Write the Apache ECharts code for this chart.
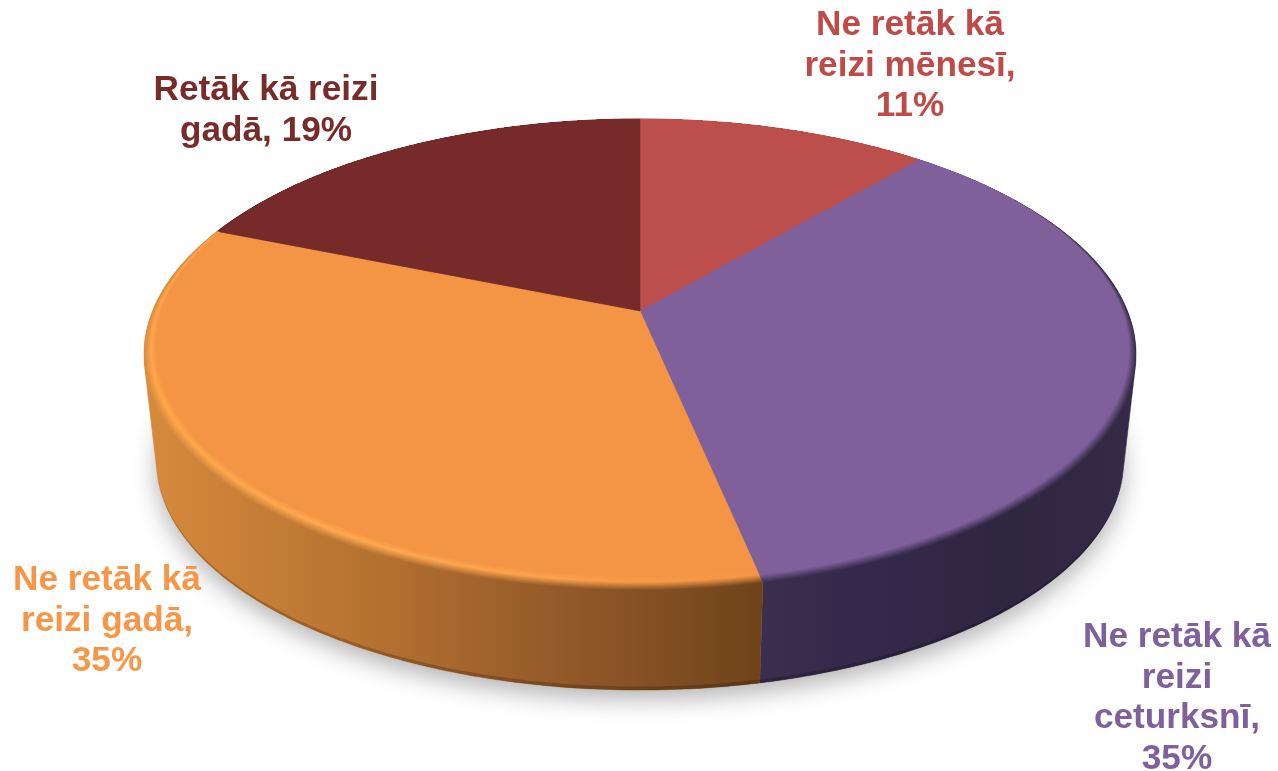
<!DOCTYPE html>
<html>
<head>
<meta charset="utf-8">
<title>Pie</title>
<script src="https://cdn.jsdelivr.net/npm/echarts@6/dist/echarts.min.js"></script>
<style>
  html, body { margin: 0; padding: 0; background: #fff; }
  #chart { width: 1278px; height: 771px; }
</style>
</head>
<body>
<div id="chart"></div>
<script>
// slice shares as measured on the picture, the printed labels are rounded
const categories = ["Ne retāk kā reizi mēnesī", "Ne retāk kā reizi ceturksnī", "Ne retāk kā reizi gadā", "Retāk kā reizi gadā"];
const shares = [11.32, 35.37, 34.41, 18.9];
const labelLines = [
  ["Ne retāk kā", "reizi mēnesī,", "11%"],
  ["Ne retāk kā", "reizi", "ceturksnī,", "35%"],
  ["Ne retāk kā", "reizi gadā,", "35%"],
  ["Retāk kā reizi", "gadā, 19%"]
];

const topColors = ["#bc4e4c", "#7f609b", "#f49545", "#762a29"];
const labelColors = ["#be4b48", "#7f609b", "#f79646", "#772c2a"];
const labelPos = [[910, 5], [1177, 617], [107, 560], [266, 70]];
const wallRange = [[640, 920], [760, 1137], [145, 763], [218, 640]];
const wallColors = [
  ["#7a3230", "#7a3230", "#7a3230", "#7a3230"],
  ["#3b2e4e", "#33284a", "#2f2640", "#352a47"],
  ["#d68a3c", "#b97431", "#945a29", "#6f431b"],
  ["#4e1c1b", "#4e1c1b", "#4e1c1b", "#4e1c1b"]
];
const rimHighlights = [
  ["#bc4e4c", "#bc4e4c", "#bc4e4c", "#bc4e4c"],
  ["#7f609b", "#7f609b", "#7f609b", "#7f609b"],
  ["#ffa64c", "#ffaa52", "#fba24c", "#f49545"],
  ["#762a29", "#762a29", "#762a29", "#762a29"]
];

const apex = [640, 311];
const tilt = -0.1847;
const radiusX = 487.5;
const radiusY = 227.5;
const bottomScale = 0.975;
const bottomCenterY = 418;

function hex2rgb(c) {
  return [1, 3, 5].map(i => parseInt(c.substr(i, 2), 16));
}
function mix(a, b, t) {
  const ca = hex2rgb(a), cb = hex2rgb(b);
  return "#" + ca.map((v, i) => Math.round(v + (cb[i] - v) * t).toString(16).padStart(2, "0")).join("");
}

// perspective circle
function rimPoint(a, scale, cy) {
  const x = Math.sin(a), y = -Math.cos(a), w = 1 + tilt * y;
  return [apex[0] + scale * radiusX * x / w, cy + scale * radiusY * y / w];
}
function topRim(a) { return rimPoint(a, 1, apex[1]); }
function bottomRim(a) { return rimPoint(a, bottomScale, bottomCenterY); }
function bevelFrac(a) {
  const t = Math.min(1, Math.max(0, (-Math.cos(a) + 0.6) / 1.6));
  return 0.05 * t;
}
// t=0 is the flat top edge, t=1 is the top of the wall
function bevelPoint(a, t) {
  const p = topRim(a), f = bevelFrac(a) * (1 - t);
  return [p[0] + (apex[0] - p[0]) * f, p[1] + (apex[1] - p[1]) * f];
}
function arc(a0, a1, fn) {
  const pts = [];
  const n = Math.max(2, Math.ceil((a1 - a0) / 0.012));
  for (let i = 0; i <= n; i++) pts.push(fn(a0 + (a1 - a0) * i / n));
  return pts;
}
function xGradient(range, colors) {
  return new echarts.graphic.LinearGradient(range[0], 0, range[1], 0,
    colors.map((c, i) => ({ offset: i / (colors.length - 1), color: c })), true);
}
// wall outline, straight bridge between the top and the bottom rim at the sides
function convexHull(points) {
  const pts = points.slice().sort((p, q) => p[0] - q[0] || p[1] - q[1]);
  const cross = (o, a, b) => (a[0] - o[0]) * (b[1] - o[1]) - (a[1] - o[1]) * (b[0] - o[0]);
  const half = list => {
    const out = [];
    list.forEach(p => {
      while (out.length > 1 && cross(out[out.length - 2], out[out.length - 1], p) <= 0) out.pop();
      out.push(p);
    });
    out.pop();
    return out;
  };
  return half(pts).concat(half(pts.slice().reverse()));
}

const total = shares.reduce((a, b) => a + b, 0);

function renderSlice(params, api) {
  const idx = params.dataIndex;
  let before = 0;
  for (let i = 0; i < idx; i++) before += shares[i];
  const a0 = before / total * Math.PI * 2;
  const a1 = (before + api.value(0)) / total * Math.PI * 2;
  const children = [];

  // ground shadow
  if (idx === 0) {
    children.push({
      type: "polygon", z2: 0, silent: true,
      shape: { points: arc(0, Math.PI * 2, bottomRim) },
      style: { fill: "#fff", shadowColor: "rgba(0,0,0,0.3)", shadowBlur: 24, shadowOffsetY: 9 }
    });
  }

  // wall
  const wallFill = xGradient(wallRange[idx], wallColors[idx]);
  children.push({
    type: "polygon", z2: 1, silent: true,
    shape: { points: convexHull(arc(a0, a1, topRim).concat(arc(a0, a1, bottomRim))) },
    style: { fill: wallFill, stroke: wallFill, lineWidth: 0.5 }
  });
  // dark foot of the wall, only toward the front
  const footFill = xGradient(wallRange[idx], wallColors[idx].map(c => mix(c, "#000000", 0.2)));
  children.push({
    type: "polygon", z2: 2, silent: true,
    shape: {
      points: arc(a0, a1, a => {
        const p = bottomRim(a);
        return [p[0], p[1] - 3.5 * Math.max(0, -Math.cos(a))];
      }).concat(arc(a0, a1, bottomRim).reverse())
    },
    style: { fill: footFill }
  });

  // rounded rim, nested sectors painted from the outside in
  const steps = 14;
  for (let s = steps - 1; s >= 0; s--) {
    const t0 = s / steps, t1 = (s + 1) / steps, t = (t0 + t1) / 2;
    const cols = wallColors[idx].map((w, k) => {
      const hi = rimHighlights[idx][k];
      return t < 0.4 ? mix(topColors[idx], hi, t / 0.4) : mix(hi, w, (t - 0.4) / 0.6);
    });
    children.push({
      type: "polygon", z2: 3 + (steps - s) * 0.01, silent: true,
      shape: { points: [apex].concat(arc(a0, a1, a => bevelPoint(a, t1))) },
      style: { fill: xGradient(wallRange[idx], cols) }
    });
  }

  // flat top
  children.push({
    type: "polygon", z2: 4, silent: true,
    shape: { points: [apex].concat(arc(a0, a1, a => bevelPoint(a, 0))) },
    style: { fill: topColors[idx], stroke: topColors[idx], lineWidth: 0.5 }
  });

  // label
  children.push({
    type: "text", z2: 5, silent: true,
    x: labelPos[idx][0], y: labelPos[idx][1],
    style: {
      text: labelLines[idx].join("\n"),
      fill: labelColors[idx],
      font: "bold 35.2px 'Liberation Sans', Arial, sans-serif",
      lineHeight: 40.7,
      align: "center",
      verticalAlign: "top"
    }
  });
  return { type: "group", children: children };
}

const chart = echarts.init(document.getElementById("chart"), null, { renderer: "canvas" });
chart.setOption({
  animation: false,
  backgroundColor: "#fff",
  series: [{
    type: "custom",
    name: "Pie",
    coordinateSystem: "none",
    clip: false,
    renderItem: renderSlice,
    data: shares.map((v, i) => ({ name: categories[i], value: [v] }))
  }]
});
</script>
</body>
</html>
